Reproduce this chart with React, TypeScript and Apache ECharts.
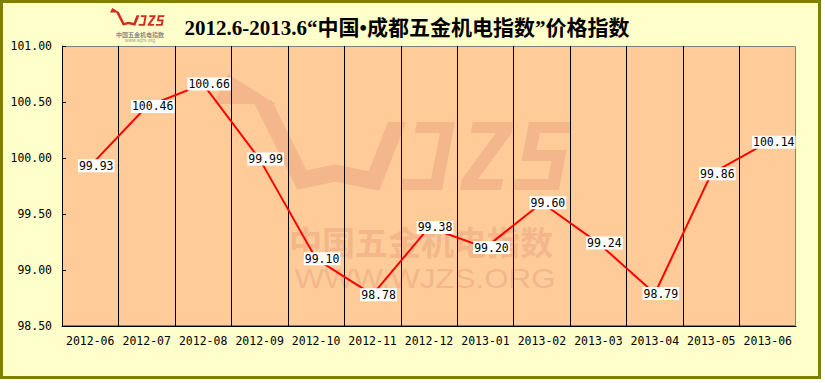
import React, { useEffect, useRef } from 'react';
import * as echarts from 'echarts';

// ---- data ----
const categories = [
  '2012-06', '2012-07', '2012-08', '2012-09', '2012-10', '2012-11', '2012-12',
  '2013-01', '2013-02', '2013-03', '2013-04', '2013-05', '2013-06',
];
const indexValues = [99.93, 100.46, 100.66, 99.99, 99.1, 98.78, 99.38, 99.2, 99.6, 99.24, 98.79, 99.86, 100.14];
const yMin = 98.5;
const yMax = 101;
const yStep = 0.5;
const titleText = '2012.6-2013.6“中国•成都五金机电指数”价格指数';
const watermarkCn = '中国五金机电指数';
const watermarkUrl = 'WWW.WJZS.ORG';
const logoUrlSmall = 'www.wjzs.org';

// ---- decorative logo geometry ----
type Pt = [number, number];
const toPath = (pts: Pt[]) =>
  'M' + pts.map((p) => p[0].toFixed(2) + ' ' + p[1].toFixed(2)).join('L') + 'Z';
const signedArea = (pts: Pt[]) => {
  let a = 0;
  for (let i = 0; i < pts.length; i++) {
    const p = pts[i];
    const q = pts[(i + 1) % pts.length];
    a += p[0] * q[1] - q[0] * p[1];
  }
  return a / 2;
};
const orient = (pts: Pt[]) => (signedArea(pts) > 0 ? pts : pts.slice().reverse());

function strokeOutline(c: Pt[], hw: number): Pt[] {
  const n = c.length;
  const dirs: Pt[] = [];
  const norms: Pt[] = [];
  for (let i = 0; i < n - 1; i++) {
    const dx = c[i + 1][0] - c[i][0];
    const dy = c[i + 1][1] - c[i][1];
    const L = Math.hypot(dx, dy);
    dirs.push([dx / L, dy / L]);
    norms.push([-dy / L, dx / L]);
  }
  const left: Pt[] = [];
  const right: Pt[] = [];
  for (let i = 0; i < n; i++) {
    if (i === 0 || i === n - 1) {
      const k = i === 0 ? 0 : n - 2;
      const nm = norms[k];
      const d = dirs[k];
      const make = (s: number): Pt => {
        const px = c[i][0] + s * nm[0] * hw;
        const py = c[i][1] + s * nm[1] * hw;
        const t = (c[i][1] - py) / d[1];
        return [px + d[0] * t, py + d[1] * t];
      };
      left.push(make(1));
      right.push(make(-1));
      continue;
    }
    const n1 = norms[i - 1];
    const n2 = norms[i];
    let mx = n1[0] + n2[0];
    let my = n1[1] + n2[1];
    const ml = Math.hypot(mx, my);
    mx /= ml;
    my /= ml;
    const len = hw / (mx * n1[0] + my * n1[1]);
    left.push([c[i][0] + mx * len, c[i][1] + my * len]);
    right.push([c[i][0] - mx * len, c[i][1] - my * len]);
  }
  return left.concat(right.reverse());
}

const skew = (pts: Pt[]): Pt[] => pts.map((p) => [p[0] + 0.19 * (190 - p[1]), p[1]] as Pt);

const arrowHead: Pt[] = [[228, 74], [276, 104], [213, 104]];
const wStroke = strokeOutline([[262, 100], [302, 180], [335, 173], [374, 181], [397, 122]], 8.5);
const letterJ = skew([[404, 122], [442, 122], [442, 190], [400, 190], [400, 179], [429, 179], [429, 133], [404, 133]]);
const letterZ = skew([[460, 122], [501, 122], [501, 133], [476, 179], [501, 179], [501, 190], [460, 190], [460, 179], [485, 133], [460, 133]]);
const letterS = skew([[516, 122], [559, 122], [559, 133], [529, 133], [529, 150], [559, 150], [559, 190], [513, 190], [513, 179], [546, 179], [546, 161], [516, 161]]);
const logoD = [arrowHead, wStroke, letterJ, letterZ, letterS].map((p) => toPath(orient(p))).join(' ');

echarts.graphic.registerShape('wjzsLogo', echarts.graphic.extendPath(logoD, {}) as any);

const smallScale = 0.152;

export default function App() {
  const ref = useRef<HTMLDivElement>(null);

  useEffect(() => {
    if (!ref.current) return;
    const chart = echarts.init(ref.current, undefined, { renderer: 'svg' });
    const mono = '"DejaVu Sans Mono", monospace';
    const wmColor = '#F3B78B';

    chart.setOption({
      animation: false,
      backgroundColor: '#ffffff',
      graphic: [
        {
          type: 'rect',
          z: 0,
          shape: { x: 1.5, y: 1.5, width: 818, height: 376 },
          style: { fill: '#FFFFCC', stroke: '#808000', lineWidth: 3 },
          silent: true,
        },
        {
          type: 'rect',
          z: 0,
          shape: { x: 62.5, y: 46.5, width: 733, height: 279 },
          style: { fill: '#FFCC99', stroke: '#808080', lineWidth: 1 },
          silent: true,
        },
        {
          type: 'wjzsLogo',
          z: 0,
          x: 0,
          y: 0,
          style: { fill: wmColor },
          silent: true,
        },
        {
          type: 'text',
          z: 0,
          x: 421,
          y: 241,
          style: {
            text: watermarkCn,
            fill: wmColor,
            font: 'bold 33px "Noto Sans CJK SC"',
            textAlign: 'center',
            textVerticalAlign: 'middle',
          },
          silent: true,
        },
        {
          type: 'text',
          z: 0,
          x: 425,
          y: 278,
          scaleX: 1.12,
          style: {
            text: watermarkUrl,
            fill: wmColor,
            font: '28px "Liberation Sans"',
            textAlign: 'center',
            textVerticalAlign: 'middle',
          },
          silent: true,
        },
        {
          type: 'wjzsLogo',
          z: 0,
          x: 110 - 213 * smallScale,
          y: 8 - 74 * smallScale,
          scaleX: smallScale,
          scaleY: smallScale,
          style: { fill: '#D42A1E' },
          silent: true,
        },
        {
          type: 'text',
          z: 0,
          x: 140,
          y: 34,
          style: {
            text: watermarkCn,
            fill: '#8a8a8a',
            font: 'bold 6px "Noto Sans CJK SC"',
            textAlign: 'center',
            textVerticalAlign: 'middle',
          },
          silent: true,
        },
        {
          type: 'text',
          z: 0,
          x: 140,
          y: 40,
          style: {
            text: logoUrlSmall,
            fill: '#9a9a9a',
            font: '5px "Liberation Sans"',
            textAlign: 'center',
            textVerticalAlign: 'middle',
          },
          silent: true,
        },
        {
          type: 'text',
          z: 0,
          x: 407,
          y: 28,
          style: {
            text: titleText,
            fill: '#000000',
            font: 'bold 21px "Liberation Serif", "Noto Sans CJK SC"',
            textAlign: 'center',
            textVerticalAlign: 'middle',
          },
          silent: true,
        },
      ],
      grid: { left: 62, top: 46, width: 734, height: 280, show: false },
      xAxis: {
        type: 'category',
        data: categories,
        boundaryGap: true,
        z: 1,
        axisLine: { show: true, lineStyle: { color: '#000000', width: 1 } },
        axisTick: { show: false },
        axisLabel: { interval: 0, color: '#000000', fontFamily: mono, fontSize: 11.5, margin: 9 },
        splitLine: { show: true, interval: 0, showMaxLine: false, lineStyle: { color: '#000000', width: 1 } },
      },
      yAxis: {
        type: 'value',
        min: yMin,
        max: yMax,
        interval: yStep,
        z: 1,
        axisLine: { show: true, lineStyle: { color: '#000000', width: 1 } },
        axisTick: { show: true, inside: true, length: 4, lineStyle: { color: '#000000' } },
        axisLabel: {
          color: '#000000',
          fontFamily: mono,
          fontSize: 11.5,
          margin: 10,
          formatter: (v: number) => v.toFixed(2),
        },
        splitLine: { show: false },
      },
      series: [
        {
          type: 'line',
          data: indexValues,
          symbol: 'circle',
          symbolSize: 2,
          z: 3,
          lineStyle: { color: '#FF0000', width: 2 },
          itemStyle: { color: '#FF0000' },
          emphasis: { disabled: true },
          label: {
            show: true,
            position: 'inside',
            offset: [6, 0],
            formatter: (p: any) => Number(p.value).toFixed(2),
            color: '#000000',
            backgroundColor: '#ffffff',
            fontFamily: mono,
            fontSize: 11.5,
            lineHeight: 12,
            padding: [1, 1, 0, 1],
          },
        },
      ],
    });

    return () => {
      chart.dispose();
    };
  }, []);

  return (
    <div
      ref={ref}
      style={{ position: 'fixed', left: 0, top: 0, width: 825, height: 383 }}
    />
  );
}
